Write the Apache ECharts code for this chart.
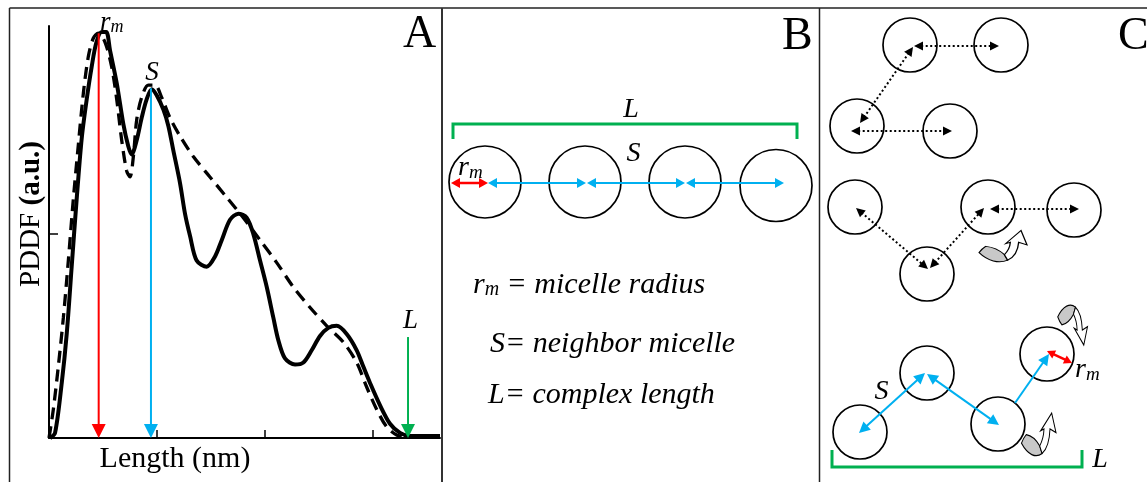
<!DOCTYPE html>
<html>
<head>
<meta charset="utf-8">
<script src="https://cdn.jsdelivr.net/npm/echarts@6/dist/echarts.min.js"></script>
<style>
  html, body { margin: 0; padding: 0; background: #fff; }
  #chart { width: 1147px; height: 482px; }
</style>
</head>
<body>
<div id="chart"></div>
<script>
// ---------- Panel A: pair-distance distribution function ----------
const lengthNm = [0.1, 0.56, 1.18, 1.64, 2.10, 2.56, 3.03, 3.49, 3.95, 4.39, 4.88, 5.3, 5.65, 6.27, 6.88,
  7.34, 7.65, 8.12, 8.58, 9.04, 9.51, 9.97, 10.59, 11.05, 11.51, 12.13, 12.59, 13.06, 13.67, 14.6,
  15.37, 15.99, 16.76, 17.53, 18.3, 18.92, 19.54, 20.16, 20.77, 21.23, 21.85, 22.78, 23.55, 24.32, 25.09,
  25.86, 26.64, 27.56, 28.49, 29.1, 29.72, 30.65, 31.57, 32.5, 33.4, 34.6, 35.6, 36.2];
const pddfMeasured = [0, 0.025, 0.27, 0.51, 0.84, 1.17, 1.47, 1.66, 1.82, 1.94, 1.99, 1.99, 1.90, 1.74, 1.54,
  1.43, 1.39, 1.46, 1.57, 1.66, 1.71, 1.68, 1.61, 1.53, 1.41, 1.25, 1.10, 0.99, 0.87, 0.84,
  0.89, 0.97, 1.07, 1.10, 1.08, 1.00, 0.87, 0.74, 0.59, 0.48, 0.39, 0.36, 0.37, 0.43, 0.50,
  0.54, 0.55, 0.51, 0.43, 0.35, 0.27, 0.16, 0.07, 0.025, 0.01, 0.01, 0.01, 0.01];
const fitLength = [0, 0.4, 0.86, 1.33, 1.79, 2.25, 2.72, 3.18, 3.64, 4.1, 4.57, 5.19, 5.8, 6.27, 6.73,
  7.19, 7.5, 7.81, 8.12, 8.58, 9.2, 9.81, 10.43, 11.2, 12.13, 13.36, 14.9, 16.45, 17.99, 19.54,
  21.08, 22.62, 24.17, 25.71, 27.25, 28.49, 29.41, 30.34, 31.27, 32.19, 33.12];
const pddfFit = [0, 0.14, 0.35, 0.59, 0.87, 1.17, 1.44, 1.69, 1.87, 1.96, 1.985, 1.94, 1.82, 1.66, 1.46,
  1.31, 1.28, 1.38, 1.56, 1.67, 1.73, 1.73, 1.67, 1.57, 1.48, 1.38, 1.28, 1.18, 1.08, 0.97,
  0.86, 0.74, 0.64, 0.55, 0.47, 0.37, 0.25, 0.14, 0.054, 0.015, 0];
const lengthTicks = [10, 20, 30];
const pddfTicks = [1];
const lengthMax = 36.2;
const pddfMax = 2.02;

// characteristic distances marked on the PDDF: micelle radius, neighbour spacing, complex length
const markerLength = [4.6, 9.44, 33.24];
const markerTop = [1.985, 1.715, 0.495];
const markerLabelPos = [[4.72, 2.037], [9.54, 1.79], [33.46, 0.576]];
const markerLabelText = ['{i|r}{s|m}', '{i|S}', '{i|L}'];

// ---------- Panel B: linear chain of micelles (panel units) ----------
const chainB = [[42, 174], [142, 174], [242, 174], [333, 177.5]];
const radiusArrowB = [[8, 175, 45, 175, 2]];
const spacingArrowsB = [[45, 175, 143, 175, 2], [144, 175, 242, 175, 2], [243, 175, 341, 175, 2]];
const bracketB = [[10, 131], [10, 116], [354, 116], [354, 131]];
const notesBPos = [[188, 102], [190.5, 146], [15, 159.5], [30, 276.7], [47, 335.7], [45, 386.7]];
const notesBText = ['{i|L}', '{i|S}', '{i|r}{s|m}',
  '{t|r}{u|m}{t| = micelle radius}', '{t|S= neighbor micelle}', '{t|L= complex length}'];

// ---------- Panel C: flexible chains (panel units) ----------
const looseC = [[91, 37], [182, 37], [38, 118], [131, 123], [36, 199], [169, 199], [255, 202], [108, 266]];
const linkedC = [[41, 424], [108, 365], [179, 416], [228, 346]];
const dottedArrowsC = [[95, 38, 180, 38, 2], [94, 39, 41, 115, 2], [32, 123, 133, 123, 2],
  [37, 200, 109, 261, 2], [111, 260, 165, 200, 2], [171, 201, 260, 201, 2]];
const spacingArrowsC = [[40, 425, 106, 365, 2], [108, 366, 180, 417, 2], [196, 395, 230, 346, 1]];
const radiusArrowC = [[228, 343, 253, 355, 2]];
const bracketC = [[13, 442], [13, 459], [263, 459], [263, 442]];
const rotationMarksC = [[183, 239], [219, 427.5], [253, 316]];
const rotationMirrored = [false, false, true];
const notesCPos = [[62.5, 384], [256, 361.5], [281, 452]];
const notesCText = ['{i|S}', '{i|r}{s|m}', '{i|L}'];

// ---------- styling ----------
const SERIF = '"Liberation Serif", "Times New Roman", serif';
const RED = '#ff0000', BLUE = '#00b0f0', GREEN = '#00b050';
const rotationMarkSize = [[50, 33], [36, 45], [31, 42]];

function richStyles(size, subSize, subPad) {
  const it = (fs, pad) => ({ fontFamily: SERIF, fontStyle: 'italic', fontSize: fs, fill: '#000', padding: pad });
  return {
    i: it(size), s: it(subSize, [subPad, 0, 0, 0]),
    t: it(30), u: it(20, [11, 0, 0, 0])
  };
}

// straight arrow with filled triangular head(s); value = [x1, y1, x2, y2, heads]
function arrowRenderer(opt) {
  return function (params, api) {
    const a = api.coord([api.value(0), api.value(1)]);
    const b = api.coord([api.value(2), api.value(3)]);
    const both = api.value(4) === 2;
    const dx = b[0] - a[0], dy = b[1] - a[1];
    const len = Math.hypot(dx, dy) || 1;
    const ux = dx / len, uy = dy / len, px = -uy, py = ux;
    const h = opt.head, w = opt.half;
    const head = (t, s) => [
      [t[0], t[1]],
      [t[0] - s * ux * h + px * w, t[1] - s * uy * h + py * w],
      [t[0] - s * ux * h - px * w, t[1] - s * uy * h - py * w]
    ];
    const start = both ? [a[0] + ux * h * 0.8, a[1] + uy * h * 0.8] : a;
    const end = [b[0] - ux * h * 0.8, b[1] - uy * h * 0.8];
    const children = [{
      type: 'line',
      shape: { x1: start[0], y1: start[1], x2: end[0], y2: end[1] },
      style: { stroke: opt.color, lineWidth: opt.width, lineDash: opt.dash || null, fill: null }
    }, {
      type: 'polygon', shape: { points: head(b, 1) }, style: { fill: opt.color }
    }];
    if (both) children.push({ type: 'polygon', shape: { points: head(a, -1) }, style: { fill: opt.color } });
    return { type: 'group', children: children };
  };
}

function noteRenderer(texts, aligns, rich) {
  return function (params, api) {
    const p = api.coord([api.value(0), api.value(1)]);
    return {
      type: 'text', x: p[0], y: p[1],
      style: {
        text: texts[params.dataIndex], rich: rich,
        align: aligns[params.dataIndex], verticalAlign: 'middle', fill: '#000'
      }
    };
  };
}

function arrowSeries(data, grid, opt) {
  return {
    type: 'custom', coordinateSystem: 'cartesian2d', xAxisIndex: grid, yAxisIndex: grid,
    silent: true, data: data, renderItem: arrowRenderer(opt), z: 5
  };
}
function noteSeries(pos, texts, aligns, grid, rich) {
  return {
    type: 'custom', coordinateSystem: 'cartesian2d', xAxisIndex: grid, yAxisIndex: grid,
    silent: true, data: pos, renderItem: noteRenderer(texts, aligns, rich), z: 6
  };
}
function circleSeries(data, grid, size) {
  return {
    type: 'scatter', xAxisIndex: grid, yAxisIndex: grid, silent: true, data: data,
    symbol: 'circle', symbolSize: size,
    itemStyle: { color: 'rgba(0,0,0,0)', borderColor: '#000', borderWidth: 1.7, opacity: 1 },
    emphasis: { disabled: true }, z: 3
  };
}
function bracketSeries(data, grid) {
  return {
    type: 'line', xAxisIndex: grid, yAxisIndex: grid, silent: true, data: data,
    showSymbol: false, symbol: 'none',
    lineStyle: { color: GREEN, width: 3, join: 'miter' }, z: 4
  };
}

// curved rotation mark: grey band plus outlined hook arrow, both drawn in one shared frame
const FRAME = 'M20,45 M170,145 ';
const bandPath = 'M26,112 C32,104 38,98 46,93 C68,95 88,105 102,118 L112,135 C86,146 52,138 26,112 Z';
const hookPath = 'M102,118 C114,106 119,94 120,80 L106,84 L152,44 L170,88 L145,80 C143,106 131,126 112,135 Z';
function mirrorY(path) {
  return path.replace(/(-?\d+(?:\.\d+)?),(-?\d+(?:\.\d+)?)/g, (m, x, y) => x + ',' + (190 - parseFloat(y)));
}
function rotationSeries(part, fill) {
  return {
    type: 'scatter', xAxisIndex: 2, yAxisIndex: 2, silent: true,
    data: rotationMarksC.map((p, i) => ({
      value: p,
      symbol: 'path://' + (rotationMirrored[i] ? mirrorY(FRAME + part) : FRAME + part),
      symbolSize: rotationMarkSize[i]
    })),
    itemStyle: { color: fill, borderColor: '#000', borderWidth: 1.1, opacity: 1 },
    emphasis: { disabled: true }, z: 4
  };
}

const hiddenAxis = (max, inverse) => ({ type: 'value', min: 0, max: max, inverse: !!inverse, show: false });
const xy = (xs, ys) => xs.map((x, i) => [x, ys[i]]);

const option = {
  animation: false,
  backgroundColor: '#fff',
  grid: [
    { left: 49, top: 26, width: 391, height: 412 },
    { left: 443, top: 8, width: 376, height: 474 },
    { left: 819, top: 8, width: 328, height: 474 }
  ],
  xAxis: [
    {
      type: 'value', gridIndex: 0, min: 0, max: lengthMax,
      name: 'Length (nm)', nameLocation: 'middle', nameGap: 6,
      nameTextStyle: { fontFamily: SERIF, fontSize: 30, color: '#000', padding: [0, 139, 0, 0] },
      axisLine: { show: true, lineStyle: { color: '#000', width: 2 } },
      axisTick: { show: true, inside: true, length: 8, customValues: lengthTicks, lineStyle: { color: '#000', width: 1.5 } },
      axisLabel: { show: false }, splitLine: { show: false }
    },
    Object.assign(hiddenAxis(376), { gridIndex: 1 }),
    Object.assign(hiddenAxis(328), { gridIndex: 2 })
  ],
  yAxis: [
    {
      type: 'value', gridIndex: 0, min: 0, max: pddfMax,
      name: '{n|PDDF }{b|(a.u.)}', nameLocation: 'middle', nameGap: 3,
      nameTextStyle: {
        padding: [0, 0, 0, 36],
        rich: {
          n: { fontFamily: SERIF, fontSize: 29, color: '#000' },
          b: { fontFamily: SERIF, fontSize: 29, color: '#000', fontWeight: 'bold' }
        }
      },
      axisLine: { show: true, lineStyle: { color: '#000', width: 2 } },
      axisTick: { show: true, inside: true, length: 9, customValues: pddfTicks, lineStyle: { color: '#000', width: 1.5 } },
      axisLabel: { show: false }, splitLine: { show: false }
    },
    Object.assign(hiddenAxis(474, true), { gridIndex: 1 }),
    Object.assign(hiddenAxis(474, true), { gridIndex: 2 })
  ],
  series: [
    // Panel A curves
    {
      type: 'line', xAxisIndex: 0, yAxisIndex: 0, data: xy(fitLength, pddfFit),
      showSymbol: false, symbol: 'none', smooth: 0.3, silent: true,
      lineStyle: { color: '#000', width: 3.3, type: [12, 7] }, z: 2
    },
    {
      type: 'line', xAxisIndex: 0, yAxisIndex: 0, data: xy(lengthNm, pddfMeasured),
      showSymbol: false, symbol: 'none', smooth: 0.3, silent: true,
      lineStyle: { color: '#000', width: 4 }, z: 2
    },
    arrowSeries([[markerLength[0], markerTop[0], markerLength[0], 0, 1]], 0, { color: RED, width: 2, head: 14, half: 7 }),
    arrowSeries([[markerLength[1], markerTop[1], markerLength[1], 0, 1]], 0, { color: BLUE, width: 2, head: 14, half: 7 }),
    arrowSeries([[markerLength[2], markerTop[2], markerLength[2], 0, 1]], 0, { color: GREEN, width: 2, head: 14, half: 7 }),
    noteSeries(markerLabelPos, markerLabelText, ['left', 'center', 'center'], 0, richStyles(27, 18, 10)),

    // Panel B
    circleSeries(chainB, 1, 72),
    bracketSeries(bracketB, 1),
    arrowSeries(spacingArrowsB, 1, { color: BLUE, width: 2, head: 9, half: 5 }),
    arrowSeries(radiusArrowB, 1, { color: RED, width: 2.5, head: 9, half: 5 }),
    noteSeries(notesBPos, notesBText, ['center', 'center', 'left', 'left', 'left', 'left'], 1, richStyles(28, 19, 10)),

    // Panel C
    circleSeries(looseC, 2, 54),
    circleSeries(linkedC, 2, 54),
    bracketSeries(bracketC, 2),
    arrowSeries(dottedArrowsC, 2, { color: '#000', width: 2, head: 9, half: 4.5, dash: [2, 2.5] }),
    arrowSeries(spacingArrowsC, 2, { color: BLUE, width: 2, head: 11, half: 5.5 }),
    arrowSeries(radiusArrowC, 2, { color: RED, width: 2.5, head: 8, half: 4.5 }),
    rotationSeries(bandPath, '#c8c8c8'),
    rotationSeries(hookPath, '#ffffff'),
    noteSeries(notesCPos, notesCText, ['center', 'left', 'center'], 2, richStyles(28, 19, 10))
  ],
  graphic: [
    { type: 'line', shape: { x1: 9.5, y1: 8, x2: 1147, y2: 8 }, style: { stroke: '#222', lineWidth: 1.5 }, silent: true },
    { type: 'line', shape: { x1: 9.5, y1: 8, x2: 9.5, y2: 482 }, style: { stroke: '#222', lineWidth: 1.5 }, silent: true },
    { type: 'line', shape: { x1: 442, y1: 8, x2: 442, y2: 482 }, style: { stroke: '#333', lineWidth: 2 }, silent: true },
    { type: 'line', shape: { x1: 819.5, y1: 8, x2: 819.5, y2: 482 }, style: { stroke: '#222', lineWidth: 1.5 }, silent: true },
    { type: 'text', x: 403, y: 35, style: { text: 'A', font: '46px ' + SERIF, fill: '#000', verticalAlign: 'middle' }, silent: true },
    { type: 'text', x: 782, y: 37, style: { text: 'B', font: '46px ' + SERIF, fill: '#000', verticalAlign: 'middle' }, silent: true },
    { type: 'text', x: 1118, y: 37, style: { text: 'C', font: '46px ' + SERIF, fill: '#000', verticalAlign: 'middle' }, silent: true }
  ]
};

const chart = echarts.init(document.getElementById('chart'), null, { renderer: 'canvas' });
chart.setOption(option);
</script>
</body>
</html>
